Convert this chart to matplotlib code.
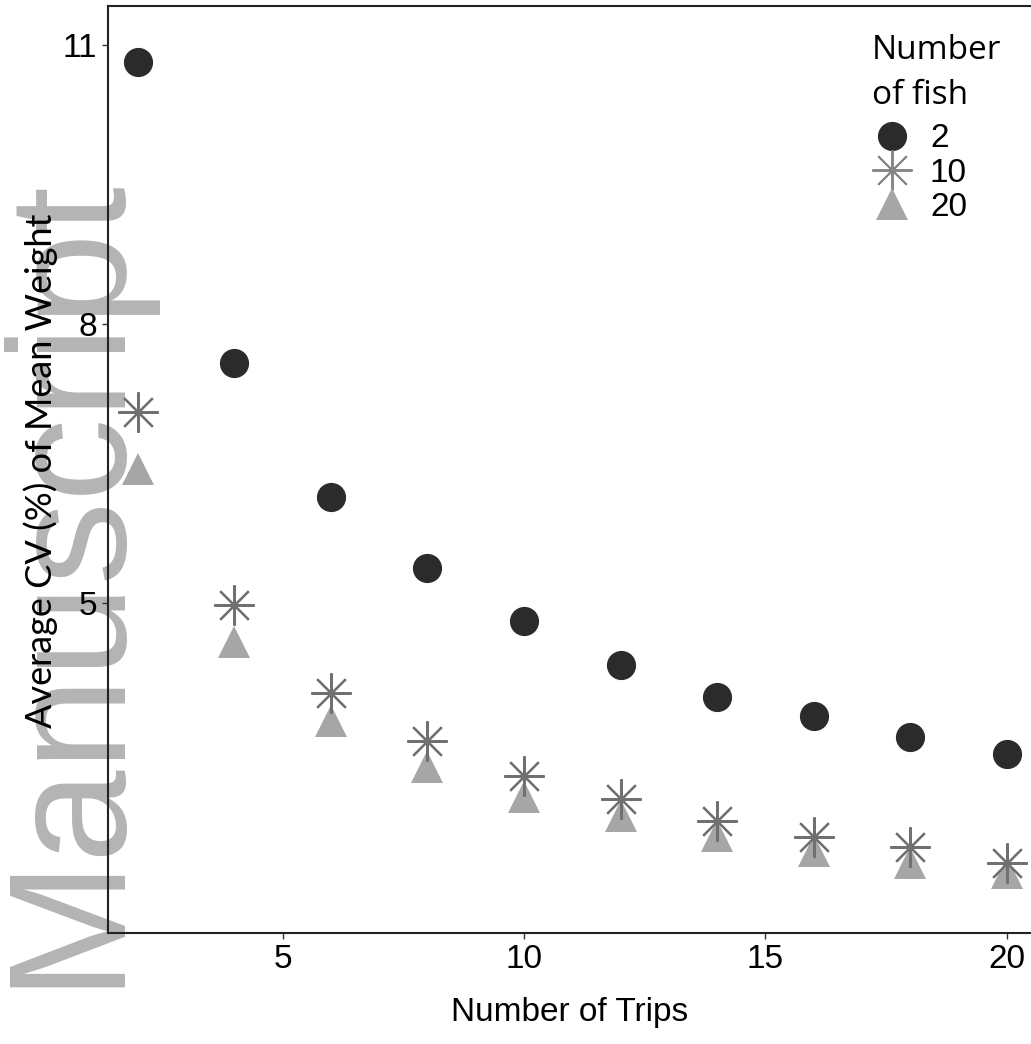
import matplotlib.pyplot as plt
from matplotlib.lines import Line2D

# data
trips = [2, 4, 6, 8, 10, 12, 14, 16, 18, 20]
cv_fish2 = [10.82, 7.58, 6.14, 5.38, 4.81, 4.33, 3.99, 3.78, 3.56, 3.37]
cv_fish10 = [7.05, 4.98, 4.03, 3.51, 3.14, 2.89, 2.65, 2.48, 2.37, 2.20]
cv_fish20 = [6.44, 4.58, 3.73, 3.23, 2.91, 2.71, 2.49, 2.33, 2.20, 2.10]
fish_labels = ['2', '10', '20']

W, H = 1031, 1044
fig = plt.figure(figsize=(W / 100, H / 100), dpi=100)
ax = fig.add_axes([108 / W, 1 - 933 / H, (1050 - 108) / W, (933 - 6) / H])

# watermark sits behind everything
fig.text(112 / W, 1 - 987 / H, 'Manuscript', rotation=90, rotation_mode='anchor',
         ha='left', va='baseline', fontsize=120, family='Liberation Sans',
         color='#b4b4b4', zorder=-5)
ax.set_facecolor('none')

ax.plot(trips, cv_fish2, 'o', ms=20, color='#2b2b2b', mec='#2b2b2b', zorder=3)
ax.plot(trips, cv_fish20, '^', ms=23, color='#a6a6a6', mec='#a6a6a6', mew=0, zorder=3)
ax.plot(trips, cv_fish10, ls='none', marker=(8, 2, 0), ms=29, mew=1.6,
        color='#707070', zorder=4)

ax.set_xlim(1.38, 20.9)
ax.set_ylim(1.45, 11.42)
ax.set_xticks([5, 10, 15, 20])
ax.set_yticks([5, 8, 11])
ax.tick_params(labelsize=24, length=4, width=1, color='#333333', pad=4)
for lab in ax.get_xticklabels() + ax.get_yticklabels():
    lab.set_family('Liberation Sans')
for s in ax.spines.values():
    s.set_linewidth(1.5)
    s.set_color('#222222')

fig.text(570 / W, 1 - 1021 / H, 'Number of Trips', ha='center', va='baseline',
         fontsize=24, family='Liberation Sans')
fig.text(41 / W, 1 - 471 / H, 'Average CV (%) of Mean Weight', rotation=90,
         ha='center', va='center', fontsize=26, family='Lato')

# legend
handles = [
    Line2D([], [], ls='none', marker='o', ms=20, color='#2b2b2b'),
    Line2D([], [], ls='none', marker=(8, 2, 0), ms=29, mew=1.4, color='#858585'),
    Line2D([], [], ls='none', marker='^', ms=23, color='#a6a6a6', mew=0),
]
leg = ax.legend(handles, fish_labels, title='Number\nof fish', loc='upper left',
                bbox_to_anchor=(855 / W, 1 - 17 / H), bbox_transform=fig.transFigure,
                frameon=False, labelspacing=0.1, handletextpad=0.55,
                handlelength=1.2, borderpad=0,
                prop={'family': 'Liberation Sans', 'size': 24})
leg.get_title().set_family('Open Sans')
leg.get_title().set_fontsize(24)
leg.get_title().set_linespacing(1.5)
leg._legend_box.align = 'left'
leg._legend_box.sep = 8

fig.savefig('out.png', dpi=100)
